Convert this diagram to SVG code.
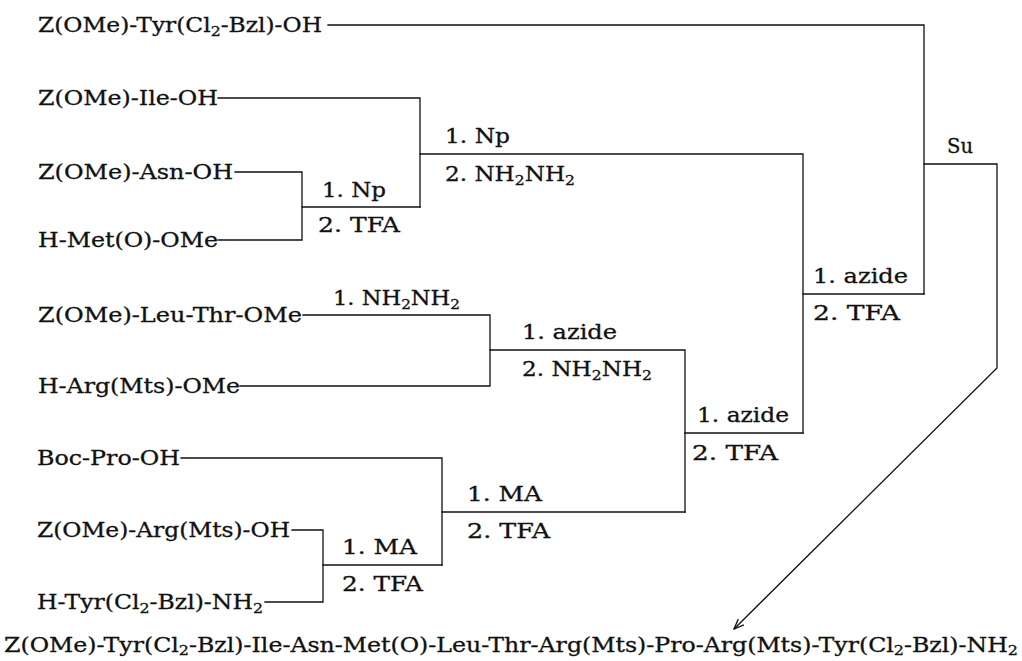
<svg xmlns="http://www.w3.org/2000/svg" width="1022" height="661" viewBox="0 0 1022 661">
<defs>
<style>
text{font-family:"DejaVu Serif","Liberation Serif",serif;font-size:20px;fill:#111;stroke:#111;stroke-width:0.3}
.sub{font-size:13.5px}
.c{fill:none;stroke:#111;stroke-width:1.3;stroke-linecap:square}
</style>
<marker id="arr" viewBox="0 0 10 10" refX="10" refY="5" markerWidth="10" markerHeight="10" markerUnits="userSpaceOnUse" orient="auto">
<path d="M0,1 L10,5 L0,9" fill="none" stroke="#111" stroke-width="1.3"/>
</marker>
</defs>
<rect width="1022" height="661" fill="#fff"/>

<g id="connectors">
<path class="c" d="M328,25 H924 V294"/>
<path class="c" d="M218,98 H420 V207"/>
<path class="c" d="M235,172 H302 V240 H218"/>
<path class="c" d="M302,207 H420"/>
<path class="c" d="M420,154 H803 V433"/>
<path class="c" d="M803,294 H924"/>
<path class="c" d="M924,164 H997 V368 L734,629" marker-end="url(#arr)"/>
<path class="c" d="M303,315 H490 V386 H240"/>
<path class="c" d="M490,350 H685 V512"/>
<path class="c" d="M685,433 H803"/>
<path class="c" d="M181,458 H442 V565"/>
<path class="c" d="M442,512 H685"/>
<path class="c" d="M292,530 H323 V602 H265"/>
<path class="c" d="M323,565 H442"/>
</g>

<g id="n-tyr"><text x="38" y="32" textLength="284" lengthAdjust="spacingAndGlyphs">Z(OMe)-Tyr(Cl<tspan class="sub" dy="4">2</tspan><tspan dy="-4">-Bzl)-OH</tspan></text></g>
<g id="n-ile"><text x="38" y="105" textLength="180" lengthAdjust="spacingAndGlyphs">Z(OMe)-Ile-OH</text></g>
<g id="n-asn"><text x="38" y="179" textLength="195" lengthAdjust="spacingAndGlyphs">Z(OMe)-Asn-OH</text></g>
<g id="n-met"><text x="38" y="247" textLength="180" lengthAdjust="spacingAndGlyphs">H-Met(O)-OMe</text></g>
<g id="n-leuthr"><text x="38" y="322" textLength="264" lengthAdjust="spacingAndGlyphs">Z(OMe)-Leu-Thr-OMe</text></g>
<g id="n-argome"><text x="38" y="393" textLength="202" lengthAdjust="spacingAndGlyphs">H-Arg(Mts)-OMe</text></g>
<g id="n-boc"><text x="37" y="465" textLength="143" lengthAdjust="spacingAndGlyphs">Boc-Pro-OH</text></g>
<g id="n-argoh"><text x="37" y="537" textLength="253" lengthAdjust="spacingAndGlyphs">Z(OMe)-Arg(Mts)-OH</text></g>
<g id="n-tyrnh2"><text x="37" y="609" textLength="226" lengthAdjust="spacingAndGlyphs">H-Tyr(Cl<tspan class="sub" dy="4">2</tspan><tspan dy="-4">-Bzl)-NH</tspan><tspan class="sub" dy="4">2</tspan></text></g>

<g id="r-np1">
<text x="322" y="197" textLength="64" lengthAdjust="spacingAndGlyphs">1. Np</text>
<text x="318" y="232" textLength="82" lengthAdjust="spacingAndGlyphs">2. TFA</text>
</g>
<g id="r-np2">
<text x="445" y="143" textLength="65" lengthAdjust="spacingAndGlyphs">1. Np</text>
<text x="445" y="181" textLength="130" lengthAdjust="spacingAndGlyphs">2. NH<tspan class="sub" dy="4">2</tspan><tspan dy="-4">NH</tspan><tspan class="sub" dy="4">2</tspan></text>
</g>
<g id="r-su"><text x="947" y="153" textLength="26" lengthAdjust="spacingAndGlyphs">Su</text></g>
<g id="r-azide3">
<text x="813" y="283" textLength="95" lengthAdjust="spacingAndGlyphs">1. azide</text>
<text x="813" y="320" textLength="87" lengthAdjust="spacingAndGlyphs">2. TFA</text>
</g>
<g id="r-hyd"><text x="333" y="305" textLength="127" lengthAdjust="spacingAndGlyphs">1. NH<tspan class="sub" dy="4">2</tspan><tspan dy="-4">NH</tspan><tspan class="sub" dy="4">2</tspan></text></g>
<g id="r-azide1">
<text x="522" y="339" textLength="95" lengthAdjust="spacingAndGlyphs">1. azide</text>
<text x="522" y="376" textLength="130" lengthAdjust="spacingAndGlyphs">2. NH<tspan class="sub" dy="4">2</tspan><tspan dy="-4">NH</tspan><tspan class="sub" dy="4">2</tspan></text>
</g>
<g id="r-azide2">
<text x="697" y="422" textLength="92" lengthAdjust="spacingAndGlyphs">1. azide</text>
<text x="692" y="460" textLength="86" lengthAdjust="spacingAndGlyphs">2. TFA</text>
</g>
<g id="r-ma2">
<text x="467" y="501" textLength="75" lengthAdjust="spacingAndGlyphs">1. MA</text>
<text x="467" y="538" textLength="83" lengthAdjust="spacingAndGlyphs">2. TFA</text>
</g>
<g id="r-ma1">
<text x="342" y="554" textLength="75" lengthAdjust="spacingAndGlyphs">1. MA</text>
<text x="342" y="591" textLength="81" lengthAdjust="spacingAndGlyphs">2. TFA</text>
</g>

<g id="product"><text x="4" y="652" textLength="1014" lengthAdjust="spacingAndGlyphs">Z(OMe)-Tyr(Cl<tspan class="sub" dy="3">2</tspan><tspan dy="-3">-Bzl)-Ile-Asn-Met(O)-Leu-Thr-Arg(Mts)-Pro-Arg(Mts)-Tyr(Cl</tspan><tspan class="sub" dy="3">2</tspan><tspan dy="-3">-Bzl)-NH</tspan><tspan class="sub" dy="3">2</tspan></text></g>
</svg>
